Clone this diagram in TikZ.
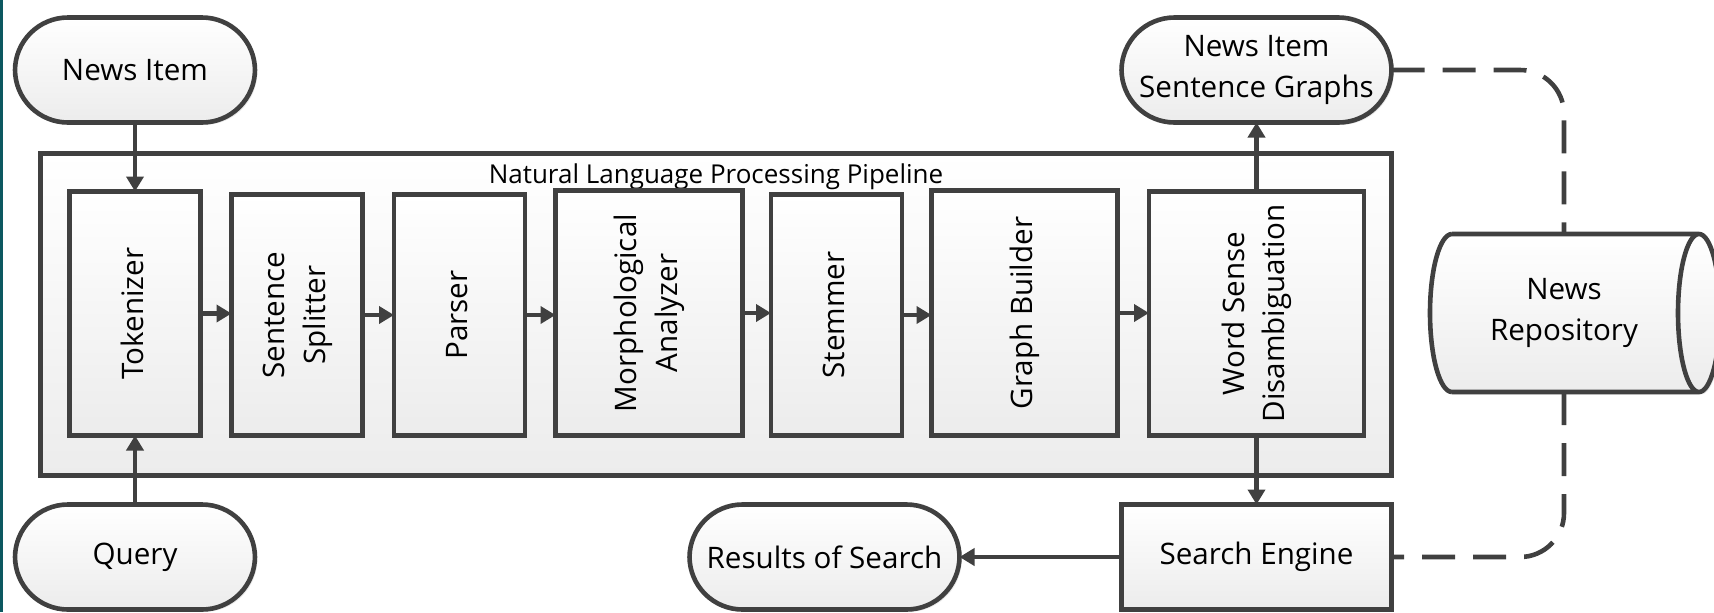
\documentclass[tikz,border=0pt]{standalone}
\usepackage{fontspec}
\setmainfont{Open Sans}
\usepackage{graphicx}
\usetikzlibrary{arrows.meta,shadows}
\definecolor{linec}{RGB}{64,64,64}
\definecolor{edgebar}{RGB}{12,88,96}
\definecolor{fillbot}{RGB}{236,236,236}
% upright text turned to read bottom-to-top inside a stage box
\newcommand{\stagetext}[1]{\rotatebox{90}{\begin{tabular}{@{}c@{}}#1\end{tabular}}}
\begin{document}
\begin{tikzpicture}[x=0.5pt,y=-0.5pt,
  lbl/.style={font=\fontsize{14.8}{20.3}\selectfont, text=black, align=center},
  shade/.style={top color=white, bottom color=fillbot},
  soft/.style={drop shadow={shadow xshift=1.2pt,shadow yshift=-1.2pt,opacity=0.18}},
  stagebox/.style={draw=linec, line width=2.3pt, shade, soft, inner sep=0pt, outer sep=0pt, lbl},
  termbox/.style={stagebox, rounded corners=26.5pt},
  arr/.style={draw=linec, line width=2.3pt, -{Triangle[length=7.5pt,width=8.5pt]}},
  dashline/.style={draw=linec, line width=2.3pt, dash pattern=on 16.5pt off 9pt, rounded corners=22pt},
]
\useasboundingbox (0,0) rectangle (1714,612);
\fill[edgebar] (0,0) rectangle (3,612);

% pipeline frame and its title
\node[stagebox, minimum width=675.5pt, minimum height=161pt] (nlp) at (716,314.5) {};
\node[lbl, font=\fontsize{13}{16}\selectfont, anchor=base] (nlptitle) at (716,183) {Natural Language Processing Pipeline};

% pipeline stages
\node[stagebox, minimum width=65.5pt, minimum height=122pt] (tok) at (135,313.5) {\stagetext{Tokenizer}};
\node[stagebox, minimum width=65.5pt, minimum height=120.5pt] (sent) at (297,315) {\stagetext{Sentence\\Splitter}};
\node[stagebox, minimum width=65.5pt, minimum height=120.5pt] (pars) at (459.5,315) {\stagetext{Parser}};
\node[stagebox, minimum width=93.5pt, minimum height=122.5pt] (morph) at (649,313) {\stagetext{Morphological\\Analyzer}};
\node[stagebox, minimum width=65.5pt, minimum height=120.5pt] (stem) at (836.5,315) {\stagetext{Stemmer}};
\node[stagebox, minimum width=93pt, minimum height=122.5pt] (graph) at (1024.5,313) {\stagetext{Graph Builder}};
\node[stagebox, minimum width=107.5pt, minimum height=122pt] (wsd) at (1256.5,313.5) {\stagetext{Word Sense\\Disambiguation}};

% inputs and outputs
\node[termbox, minimum width=120pt, minimum height=52.5pt] (news) at (135,70) {News Item};
\node[termbox, minimum width=120pt, minimum height=52.5pt] (query) at (135,557) {Query};
\node[termbox, minimum width=135pt, minimum height=52.5pt] (sgraphs) at (1256.5,70) {News Item\\Sentence Graphs};
\node[termbox, minimum width=135pt, minimum height=52.5pt] (results) at (824.5,557) {Results of Search};
\node[stagebox, minimum width=135pt, minimum height=52.5pt] (search) at (1256.5,557) {Search Engine};

% news repository drum
\path[shade, soft] (1452,234) -- (1699,234)
  arc[start angle=90, end angle=-90, x radius=10.5pt, y radius=39.5pt]
  -- (1452,392)
  arc[start angle=270, end angle=90, x radius=11pt, y radius=39.5pt] -- cycle;
\draw[draw=linec, line width=2.3pt, line join=round]
  (1452,234) -- (1699,234) (1452,392) -- (1699,392)
  (1452,234) arc[start angle=90, end angle=270, x radius=11pt, y radius=39.5pt]
  (1699,313) ellipse[x radius=10.5pt, y radius=39.5pt];
\node[lbl, inner sep=0pt, outer sep=0pt, minimum width=100pt, minimum height=79pt] (repo) at (1564,313) {News\\Repository};

% connectors
\draw[arr] (news) -- (tok);
\draw[arr] (query) -- (tok);
\draw[arr] (tok.east) -- (tok.east -| sent.west);
\draw[arr] (sent.east) -- (sent.east -| pars.west);
\draw[arr] (pars.east) -- (pars.east -| morph.west);
\draw[arr] (morph.east) -- (morph.east -| stem.west);
\draw[arr] (stem.east) -- (stem.east -| graph.west);
\draw[arr] (graph.east) -- (graph.east -| wsd.west);
\draw[arr] (wsd) -- (sgraphs);
\draw[arr] (wsd) -- (search);
\draw[arr] (search) -- (results);
\draw[dashline] (sgraphs.east) -| (repo.north);
\draw[dashline] (repo.south) |- (search.east);
\end{tikzpicture}
\end{document}
